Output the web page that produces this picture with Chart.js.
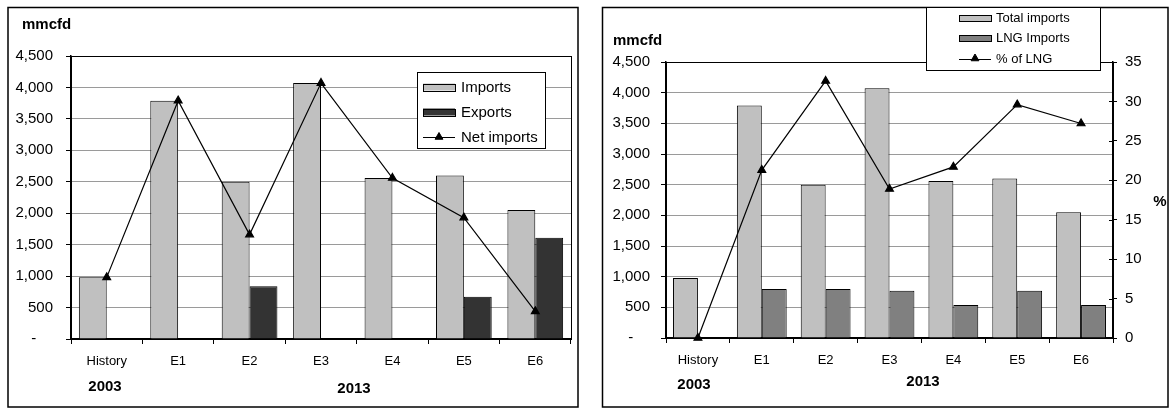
<!DOCTYPE html>
<html>
<head>
<meta charset="utf-8">
<script src="https://cdn.jsdelivr.net/npm/chart.js@4/dist/chart.umd.min.js"></script>
<style>
  html, body { margin: 0; padding: 0; background: #fff; width: 1169px; height: 408px; overflow: hidden; }
  canvas { position: absolute; top: 0; }
  #flows { left: 0; }
  #lng { left: 590px; }
</style>
</head>
<body>
<canvas id="flows" width="585" height="408"></canvas>
<canvas id="lng" width="579" height="408"></canvas>
<script>
// Gas trade volumes (mmcfd) for the 2003 history year and six 2013 cases
const categories = ['History', 'E1', 'E2', 'E3', 'E4', 'E5', 'E6'];
const imports    = [980, 3790, 2500, 4070, 2560, 2600, 2050];
const exportsVol = [null, null, 840, null, null, 670, 1610];
const netImports = [980, 3790, 1660, 4070, 2560, 1930, 440];

// LNG part of the imports and its share of the total (%)
const lngImports = [null, 800, 800, 770, 540, 770, 540];
const lngShare   = [0, 21.3, 32.6, 18.9, 21.7, 29.6, 27.2];

// Axis ranges and period labels
const volumeMax = 4500, volumeStep = 500;
const shareMax = 35, shareStep = 5;
const periodLabels = ['2003', '2013'];
const unitLabel = 'mmcfd';
const shareUnit = '%';

const FONT = "'Liberation Sans', Arial, Helvetica, sans-serif";

function volumeTick(v) {
  return v === 0 ? '-    ' : v.toLocaleString('en-US');
}

// Draws the plot frame, the outer box, free text and a boxed legend
const decorPlugin = {
  id: 'decor',
  afterDraw(chart, args, o) {
    const ctx = chart.ctx, a = chart.chartArea;
    ctx.save();
    ctx.strokeStyle = '#000';
    ctx.lineWidth = 1;
    ctx.strokeRect(Math.round(a.left) + 0.5, Math.round(a.top) + 0.5,
                   Math.round(a.right - a.left), Math.round(a.bottom - a.top));

    // right-axis tick marks cross the axis line
    if (o.crossAxis) {
      const s = chart.scales[o.crossAxis];
      ctx.beginPath();
      s.ticks.forEach(t => {
        const y = Math.round(s.getPixelForValue(t.value)) + 0.5;
        ctx.moveTo(s.left - 4, y);
        ctx.lineTo(s.left, y);
      });
      ctx.stroke();
    }

    // outer box
    ctx.lineWidth = 1.5;
    ctx.strokeRect(o.box.x, o.box.y, o.box.w, o.box.h);

    // free text
    ctx.fillStyle = '#000';
    ctx.textBaseline = 'alphabetic';
    o.texts.forEach(t => {
      ctx.font = t.font;
      ctx.textAlign = t.align;
      ctx.fillText(t.text, t.x, t.y);
    });

    // legend
    const L = o.legend;
    ctx.fillStyle = '#fff';
    ctx.fillRect(L.x, L.y, L.w, L.h);
    ctx.lineWidth = 1;
    ctx.strokeStyle = '#000';
    ctx.strokeRect(L.x + 0.5, L.y + 0.5, L.w, L.h);
    ctx.font = L.font;
    ctx.textAlign = 'left';
    ctx.textBaseline = 'middle';
    chart.data.datasets.forEach((ds, i) => {
      const cy = L.rows[i];
      if (ds.type === 'line') {
        ctx.strokeStyle = '#000';
        ctx.lineWidth = 1;
        ctx.beginPath();
        ctx.moveTo(L.sx, Math.round(cy) + 0.5);
        ctx.lineTo(L.sx + L.sw, Math.round(cy) + 0.5);
        ctx.stroke();
        ctx.fillStyle = '#000';
        Chart.helpers.drawPoint(ctx, { pointStyle: 'triangle', radius: 4.5, rotation: 0, borderWidth: 1 },
                                L.sx + L.sw / 2, cy);
      } else {
        ctx.fillStyle = ds.backgroundColor;
        ctx.fillRect(L.sx, cy - L.sh / 2, L.sw, L.sh);
        ctx.strokeStyle = '#000';
        ctx.lineWidth = 1;
        ctx.strokeRect(L.sx + 0.5, Math.round(cy - L.sh / 2) + 0.5, L.sw, L.sh);
      }
      ctx.fillStyle = '#000';
      ctx.fillText(ds.label, L.tx, cy + 0.5);
    });
    ctx.restore();
  }
};

function barSet(label, data, color) {
  return { type: 'bar', label, data, backgroundColor: color, borderColor: '#000', borderWidth: 1,
           categoryPercentage: 0.78, barPercentage: 1, order: 1, yAxisID: 'y' };
}
function lineSet(label, data, axis) {
  return { type: 'line', label, data, borderColor: '#000', backgroundColor: '#000', borderWidth: 1.2,
           pointStyle: 'triangle', pointRadius: 4.5, pointBackgroundColor: '#000', pointBorderColor: '#000',
           tension: 0, order: 0, yAxisID: axis, clip: false };
}

function volumeAxis(width, pad) {
  return {
    position: 'left', min: 0, max: volumeMax,
    ticks: { stepSize: volumeStep, callback: volumeTick, color: '#000', padding: pad,
             font: { family: FONT, size: 15 } },
    grid: { color: '#9a9a9a', lineWidth: 1, tickColor: '#000', tickLength: 5 },
    border: { display: true, color: '#000', width: 1.5 },
    afterFit(s) { s.width = width; }
  };
}
function categoryAxis(height) {
  return {
    ticks: { color: '#000', padding: 10, autoSkip: false, maxRotation: 0, font: { family: FONT, size: 13 } },
    grid: { offset: true, drawOnChartArea: false, color: '#000', tickColor: '#000', tickLength: 5 },
    border: { display: true, color: '#000', width: 2 },
    afterFit(s) { s.height = height; }
  };
}

const common = {
  responsive: false, animation: false, devicePixelRatio: 1,
  plugins: { legend: { display: false }, tooltip: { enabled: false } }
};

// Imports, exports and net imports
new Chart(document.getElementById('flows'), {
  data: {
    labels: categories,
    datasets: [
      barSet('Imports', imports, '#c0c0c0'),
      barSet('Exports', exportsVol, '#333333'),
      lineSet('Net imports', netImports, 'y')
    ]
  },
  options: {
    ...common,
    layout: { padding: { left: 0, top: 56, right: 14, bottom: 0 } },
    scales: { x: categoryAxis(69), y: volumeAxis(71, 13) },
    plugins: {
      ...common.plugins,
      decor: {
        box: { x: 8, y: 7.5, w: 570, h: 399.5 },
        texts: [
          { text: unitLabel, x: 22, y: 28.5, align: 'left', font: `bold 15px ${FONT}` },
          { text: periodLabels[0], x: 105, y: 391, align: 'center', font: `bold 15px ${FONT}` },
          { text: periodLabels[1], x: 354, y: 393, align: 'center', font: `bold 15px ${FONT}` }
        ],
        legend: { x: 417, y: 72, w: 128, h: 76, rows: [87, 112, 137], sx: 423, sw: 32, sh: 7, tx: 461,
                  font: `15px ${FONT}` }
      }
    }
  },
  plugins: [decorPlugin]
});

// Total imports, LNG imports and LNG share
new Chart(document.getElementById('lng'), {
  data: {
    labels: categories,
    datasets: [
      barSet('Total imports', imports, '#c0c0c0'),
      barSet('LNG Imports', lngImports, '#808080'),
      lineSet('% of LNG', lngShare, 'y1')
    ]
  },
  options: {
    ...common,
    layout: { padding: { left: 0, top: 62, right: 0, bottom: 0 } },
    scales: {
      x: categoryAxis(70),
      y: volumeAxis(76, 11),
      y1: {
        position: 'right', min: 0, max: shareMax,
        ticks: { stepSize: shareStep, color: '#000', padding: 8, font: { family: FONT, size: 15 } },
        grid: { drawOnChartArea: false, color: '#000', tickColor: '#000', tickLength: 4 },
        border: { display: true, color: '#000', width: 1.5 },
        afterFit(s) { s.width = 56; }
      }
    },
    plugins: {
      ...common.plugins,
      decor: {
        crossAxis: 'y1',
        box: { x: 12.5, y: 7.5, w: 565.5, h: 399.5 },
        texts: [
          { text: unitLabel, x: 23, y: 45, align: 'left', font: `bold 15px ${FONT}` },
          { text: periodLabels[0], x: 104, y: 389, align: 'center', font: `bold 15px ${FONT}` },
          { text: periodLabels[1], x: 333, y: 386, align: 'center', font: `bold 15px ${FONT}` },
          { text: shareUnit, x: 570, y: 206, align: 'center', font: `bold 15px ${FONT}` }
        ],
        legend: { x: 336, y: 7, w: 174, h: 63, rows: [18, 38, 58.5], sx: 369, sw: 32, sh: 6, tx: 406,
                  font: `13px ${FONT}` }
      }
    }
  },
  plugins: [decorPlugin]
});
</script>
</body>
</html>
